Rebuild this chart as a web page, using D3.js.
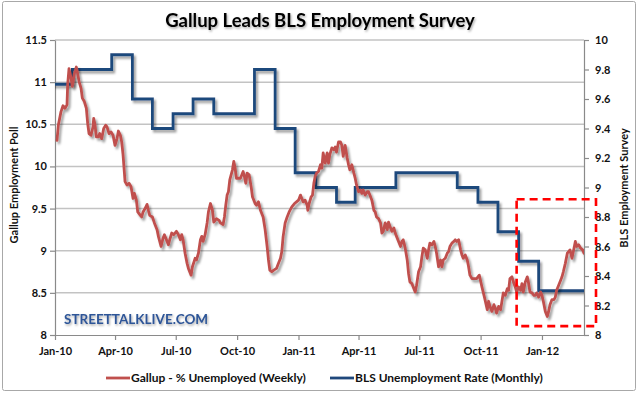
<!DOCTYPE html>
<html>
<head>
<meta charset="utf-8">
<script src="https://cdn.jsdelivr.net/npm/d3@7"></script>
<style>
  html, body { margin: 0; padding: 0; background: #fff; }
  svg { display: block; font-family: Lato, "Liberation Sans", sans-serif; }
</style>
</head>
<body>
<svg id="chart" width="639" height="396"></svg>
<script>
// ---------------- DATA ----------------
const chartTitle = "Gallup Leads BLS Employment Survey";
const leftAxisTitle = "Gallup Employment Poll";
const rightAxisTitle = "BLS Employment Survey";
const seriesNames = ["Gallup - % Unemployed (Weekly)", "BLS Unemployment Rate (Monthly)"];
const watermark = "STREETTALKLIVE.COM";

const startDate = "2010-01-01";
const endDate = "2012-03-04";

const xTickDates = ["2010-01-01","2010-04-01","2010-07-01","2010-10-01","2011-01-01","2011-04-01","2011-07-01","2011-10-01","2012-01-01"];
const leftTicks = [8, 8.5, 9, 9.5, 10, 10.5, 11, 11.5];
const rightTicks = [8, 8.2, 8.4, 8.6, 8.8, 9, 9.2, 9.4, 9.6, 9.8, 10];

// Gallup % unemployed: [days after startDate, value]
const gallup = [
[3,10.31],[5,10.49],[9,10.65],[12,10.72],[15,10.69],[18,10.73],[19,10.97],[21,11.16],[24,11.05],[26,10.95],
[29,11.10],[32,11.18],[34,11.10],[36,11.01],[39,10.93],[41,10.81],[44,10.77],[47,10.69],[49,10.51],[51,10.39],
[54,10.37],[57,10.47],[58,10.57],[60,10.49],[62,10.35],[65,10.35],[67,10.39],[70,10.33],[73,10.45],[76,10.49],
[78,10.47],[81,10.39],[84,10.41],[87,10.37],[90,10.25],[93,10.33],[95,10.42],[98,10.37],[100,10.29],[102,10.14],
[105,9.82],[108,9.78],[111,9.80],[114,9.76],[117,9.62],[119,9.68],[122,9.60],[124,9.46],[128,9.42],[130,9.40],
[132,9.46],[135,9.50],[138,9.55],[140,9.48],[142,9.42],[146,9.40],[149,9.33],[153,9.25],[155,9.17],[159,9.05],
[162,9.15],[164,9.19],[166,9.15],[170,9.07],[172,9.13],[175,9.21],[178,9.19],[182,9.23],[185,9.19],[188,9.13],
[190,9.19],[192,9.13],[195,8.97],[198,8.85],[200,8.79],[204,8.71],[206,8.81],[210,8.91],[212,8.89],[215,8.97],
[218,9.13],[220,9.17],[222,9.11],[225,9.19],[228,9.33],[230,9.46],[233,9.56],[236,9.48],[238,9.34],[240,9.36],
[242,9.38],[246,9.36],[248,9.33],[252,9.31],[254,9.40],[256,9.54],[258,9.66],[260,9.70],[262,9.84],[266,9.96],
[268,10.06],[270,9.98],[272,9.86],[276,9.86],[278,9.86],[282,9.94],[284,9.88],[286,9.80],[288,9.92],[291,9.90],
[294,9.76],[296,9.64],[300,9.56],[302,9.54],[305,9.58],[308,9.48],[312,9.40],[315,9.25],[318,9.05],[320,8.89],
[322,8.77],[325,8.75],[328,8.77],[332,8.79],[335,8.85],[338,8.91],[340,8.99],[342,9.17],[345,9.33],[348,9.40],
[351,9.46],[355,9.52],[359,9.56],[362,9.58],[365,9.60],[368,9.66],[370,9.62],[372,9.58],[375,9.60],[378,9.54],
[379,9.48],[381,9.56],[384,9.64],[386,9.66],[388,9.80],[390,9.88],[392,9.92],[395,9.94],[398,10.02],[400,9.98],
[402,10.16],[405,10.04],[408,10.16],[410,10.04],[412,10.14],[415,10.22],[418,10.20],[420,10.23],[422,10.17],[425,10.29],
[428,10.29],[430,10.25],[432,10.12],[435,10.25],[438,10.10],[440,10.02],[442,9.96],[445,10.02],[448,9.92],[450,9.86],
[452,9.78],[455,9.70],[458,9.72],[460,9.68],[462,9.72],[465,9.66],[468,9.70],[470,9.70],[472,9.66],[475,9.60],
[478,9.48],[480,9.46],[482,9.40],[485,9.38],[488,9.33],[490,9.21],[492,9.23],[495,9.33],[498,9.25],[500,9.34],
[502,9.29],[505,9.23],[508,9.27],[510,9.21],[512,9.17],[515,9.11],[518,9.05],[520,9.11],[522,9.13],[525,9.03],
[528,8.89],[530,8.73],[532,8.63],[535,8.61],[538,8.55],[540,8.51],[542,8.59],[545,8.75],[548,8.81],[550,8.93],
[552,9.03],[555,9.01],[558,8.91],[560,9.01],[562,9.09],[565,9.07],[568,9.11],[570,9.05],[572,8.97],[575,8.81],
[578,8.89],[580,8.81],[582,8.89],[585,8.91],[588,8.97],[590,8.99],[592,9.05],[595,9.09],[598,9.11],[600,9.13],
[602,9.11],[605,9.13],[608,9.01],[610,8.95],[612,8.91],[615,8.95],[618,8.89],[620,8.81],[622,8.71],[625,8.67],
[628,8.67],[632,8.67],[636,8.71],[640,8.57],[644,8.44],[648,8.30],[650,8.40],[652,8.34],[655,8.28],[658,8.36],
[660,8.32],[662,8.26],[665,8.34],[668,8.30],[670,8.40],[672,8.50],[675,8.47],[678,8.55],[680,8.53],[682,8.67],
[685,8.69],[688,8.61],[690,8.57],[692,8.51],[695,8.57],[698,8.53],[700,8.61],[702,8.51],[705,8.63],[708,8.69],
[710,8.61],[712,8.51],[715,8.50],[718,8.47],[720,8.47],[722,8.50],[725,8.45],[728,8.51],[730,8.47],[732,8.40],
[735,8.28],[738,8.22],[740,8.28],[742,8.36],[745,8.42],[748,8.42],[750,8.45],[752,8.53],[755,8.59],[758,8.65],
[760,8.69],[762,8.75],[765,8.85],[768,8.97],[770,8.99],[772,9.01],[775,8.91],[778,9.03],[780,9.11],[782,9.05],
[785,9.07],[788,9.03],[791,9.01],[793,8.97]
];

// BLS unemployment rate; each value holds from the 27th of the listed month
const blsMonths = ["2009-12","2010-01","2010-02","2010-03","2010-04","2010-05","2010-06","2010-07","2010-08","2010-09",
  "2010-10","2010-11","2010-12","2011-01","2011-02","2011-03","2011-04","2011-05","2011-06","2011-07",
  "2011-08","2011-09","2011-10","2011-11","2011-12","2012-01","2012-02"];
const blsValues = [9.7,9.8,9.8,9.9,9.6,9.4,9.5,9.6,9.5,9.5,
  9.8,9.4,9.1,9.0,8.9,9.0,9.0,9.1,9.1,9.1,
  9.0,8.9,8.7,8.5,8.3,8.3,8.3];

// highlighted region (dates, right-axis values)
const highlightDates = ["2011-11-24", "2012-03-22"];
const highlightValues = [8.06, 8.92];

// ---------------- CHART ----------------
const svg = d3.select("#chart");
const parse = d3.utcParse("%Y-%m-%d");
const start = parse(startDate), end = parse(endDate);
const plot = { left: 55, right: 584, top: 40, bottom: 335 };

const x = d3.scaleUtc().domain([start, end]).range([plot.left, plot.right]);
const yL = d3.scaleLinear().domain([8, 11.5]).range([plot.bottom, plot.top]);
const yR = d3.scaleLinear().domain([8, 10]).range([plot.bottom, plot.top]);

const defs = svg.append("defs");
const sh = defs.append("filter").attr("id", "shadow").attr("x", "-10%").attr("y", "-10%").attr("width", "130%").attr("height", "130%");
sh.append("feDropShadow").attr("dx", 2).attr("dy", 2.5).attr("stdDeviation", 1.3)
  .attr("flood-color", "#000").attr("flood-opacity", 0.38);
const tsh = defs.append("filter").attr("id", "tshadow").attr("x", "-10%").attr("y", "-30%").attr("width", "120%").attr("height", "160%");
tsh.append("feDropShadow").attr("dx", 1).attr("dy", 1.5).attr("stdDeviation", 1)
  .attr("flood-color", "#000").attr("flood-opacity", 0.35);
defs.append("clipPath").attr("id", "clip").append("rect")
  .attr("x", plot.left).attr("y", plot.top - 5).attr("width", plot.right - plot.left).attr("height", plot.bottom - plot.top + 10);

// background + border
svg.append("rect").attr("x", 0).attr("y", 0).attr("width", 639).attr("height", 396).attr("fill", "#fff");
svg.append("rect").attr("x", 2.5).attr("y", 1.5).attr("width", 633).attr("height", 389)
  .attr("fill", "#fff").attr("stroke", "#a8a8a8").attr("stroke-width", 1).attr("rx", 2);

// gridlines
svg.append("g").selectAll("line").data(leftTicks.filter(d => d > 8)).join("line")
  .attr("x1", plot.left).attr("x2", plot.right)
  .attr("y1", d => yL(d)).attr("y2", d => yL(d))
  .attr("stroke", "#c3c3c3").attr("stroke-width", 1.5);

// axes
const fmt = d => String(+d.toFixed(1));
const axisColor = "#8a8a8a";
function styleAxis(g) {
  g.select(".domain").attr("stroke", axisColor).attr("stroke-width", 1.2);
  g.selectAll(".tick line").attr("stroke", axisColor).attr("stroke-width", 1.2);
  g.selectAll(".tick text").attr("fill", "#111").attr("font-weight", 700).attr("font-size", 11)
    .attr("font-family", "Lato, 'Liberation Sans', sans-serif");
}
svg.append("g").attr("transform", `translate(${plot.left},0)`)
  .call(d3.axisLeft(yL).tickValues(leftTicks).tickFormat(fmt).tickSize(5).tickSizeOuter(0).tickPadding(3))
  .call(styleAxis);
svg.append("g").attr("transform", `translate(${plot.right},0)`)
  .call(d3.axisRight(yR).tickValues(rightTicks).tickFormat(fmt).tickSize(5).tickSizeOuter(0).tickPadding(6))
  .call(styleAxis);
svg.append("g").attr("transform", `translate(0,${plot.bottom})`)
  .call(d3.axisBottom(x).tickValues(xTickDates.map(parse)).tickFormat(d3.utcFormat("%b-%y")).tickSize(5).tickSizeOuter(0).tickPadding(7))
  .call(styleAxis);

// series
const gallupPts = gallup.map(([d, v]) => [d3.utcDay.offset(start, d), v]);
const gLine = d3.line().x(d => x(d[0])).y(d => yL(d[1])).curve(d3.curveLinear);
const blsPts = blsMonths.map((m, i) => [d3.utcDay.offset(d3.utcParse("%Y-%m")(m), 26), blsValues[i]]);
blsPts.push([end, blsValues[blsValues.length - 1]]);
const bLine = d3.line().x(d => x(d[0])).y(d => yR(d[1])).curve(d3.curveStepAfter);

const series = svg.append("g").attr("clip-path", "url(#clip)");
series.append("path").datum(blsPts).attr("d", bLine)
  .attr("fill", "none").attr("stroke", "#1f487c").attr("stroke-width", 2.8)
  .attr("stroke-linejoin", "miter").attr("filter", "url(#shadow)");
series.append("path").datum(gallupPts).attr("d", gLine)
  .attr("fill", "none").attr("stroke", "#c0504d").attr("stroke-width", 2.8)
  .attr("stroke-linejoin", "round").attr("stroke-linecap", "round").attr("filter", "url(#shadow)");

// highlight box
const hx0 = x(parse(highlightDates[0])), hx1 = x(parse(highlightDates[1]));
const hy0 = yR(highlightValues[1]), hy1 = yR(highlightValues[0]);
svg.append("rect").attr("x", hx0).attr("y", hy0).attr("width", hx1 - hx0).attr("height", hy1 - hy0)
  .attr("fill", "none").attr("stroke", "#ff0000").attr("stroke-width", 2.6).attr("stroke-dasharray", "8,5");

// watermark
svg.append("text").attr("x", 64).attr("y", 324).text(watermark)
  .attr("font-size", 13.5).attr("font-weight", 700).attr("fill", "#2e5597").attr("filter", "url(#tshadow)");

// title
svg.append("text").attr("x", 320).attr("y", 27).attr("text-anchor", "middle").text(chartTitle)
  .attr("font-size", 18.5).attr("font-weight", 700).attr("fill", "#000").attr("filter", "url(#tshadow)");

// axis titles
svg.append("text").attr("transform", "translate(18,185) rotate(-90)").attr("text-anchor", "middle")
  .text(leftAxisTitle).attr("font-size", 11).attr("font-weight", 700).attr("fill", "#111");
svg.append("text").attr("transform", "translate(628,188) rotate(-90)").attr("text-anchor", "middle")
  .text(rightAxisTitle).attr("font-size", 11).attr("font-weight", 700).attr("fill", "#111");

// legend
const legend = svg.append("g");
const legendItems = [
  { name: seriesNames[0], color: "#c0504d", x: 106 },
  { name: seriesNames[1], color: "#1f487c", x: 330 }
];
legendItems.forEach(it => {
  legend.append("line").attr("x1", it.x).attr("x2", it.x + 24).attr("y1", 378).attr("y2", 378)
    .attr("stroke", it.color).attr("stroke-width", 2.8);
  legend.append("text").attr("x", it.x + 25).attr("y", 382).text(it.name)
    .attr("font-size", 12).attr("font-weight", 700).attr("fill", "#111");
});
</script>
</body>
</html>
